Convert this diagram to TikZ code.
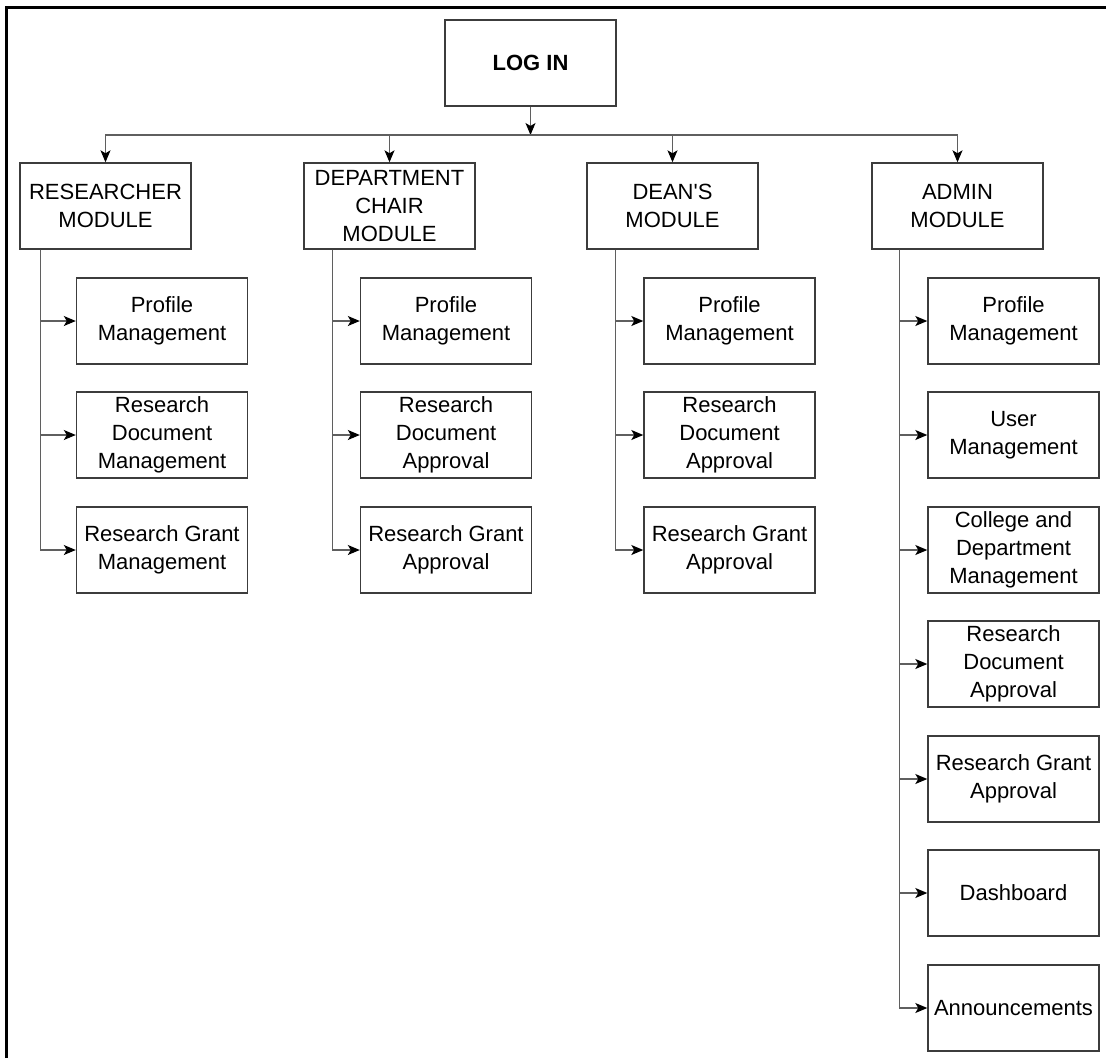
\documentclass[tikz,border=0pt]{standalone}
\usepackage{fontspec}
\setmainfont{Liberation Sans}
\usetikzlibrary{arrows.meta}
\definecolor{boxline}{RGB}{60,60,60}
\definecolor{conn}{RGB}{95,95,95}
\begin{document}
\begin{tikzpicture}[x=1pt,y=-1pt,
  box/.style={draw=boxline,line width=1.4pt,fill=white,minimum width=171pt,minimum height=86pt,
    inner sep=0pt,align=center,font=\fontsize{22}{28}\selectfont},
  arr/.style={draw=conn,line width=1.2pt,-{Stealth[length=12pt,width=10pt,inset=3pt,color=black,fill=black]}}]
\useasboundingbox (0,0) rectangle (1106,1058);
\draw[line width=3pt,black] (6,1058) -- (6,7) -- (1106,7);

\node[box,font=\fontsize{22}{28}\selectfont\bfseries] (login) at (530.5,63) {LOG IN};
\coordinate (bus) at (530.5,135);

\node[box] (res) at (105.5,206) {RESEARCHER\\MODULE};
\node[box] (dept) at (389.5,206) {DEPARTMENT\\CHAIR\\MODULE};
\node[box] (dean) at (672.5,206) {DEAN\textquotesingle S\\MODULE};
\node[box] (admin) at (957.5,206) {ADMIN\\MODULE};

\draw[arr] (login.south) -- (bus);
\foreach \m in {res,dept,dean,admin}{\draw[arr] (bus) -| (\m.north);}

% Researcher children
\node[box] (r1) at (162,321) {Profile\\Management};
\node[box] (r2) at (162,435) {Research\\Document\\Management};
\node[box] (r3) at (162,550) {Research Grant\\Management};
% Dept children
\node[box] (d1) at (446,321) {Profile\\Management};
\node[box] (d2) at (446,435) {Research\\Document\\Approval};
\node[box] (d3) at (446,550) {Research Grant\\Approval};
% Dean children
\node[box] (e1) at (729.5,321) {Profile\\Management};
\node[box] (e2) at (729.5,435) {Research\\Document\\Approval};
\node[box] (e3) at (729.5,550) {Research Grant\\Approval};
% Admin children
\node[box] (a1) at (1013.5,321) {Profile\\Management};
\node[box] (a2) at (1013.5,435) {User\\Management};
\node[box] (a3) at (1013.5,550) {College and\\Department\\Management};
\node[box] (a4) at (1013.5,664) {Research\\Document\\Approval};
\node[box] (a5) at (1013.5,779) {Research Grant\\Approval};
\node[box] (a6) at (1013.5,893) {Dashboard};
\node[box] (a7) at (1013.5,1008) {Announcements};

\foreach \c in {r1,r2,r3}{\draw[arr] ([xshift=21pt]res.south west) |- (\c.west);}
\foreach \c in {d1,d2,d3}{\draw[arr] ([xshift=29pt]dept.south west) |- (\c.west);}
\foreach \c in {e1,e2,e3}{\draw[arr] ([xshift=29pt]dean.south west) |- (\c.west);}
\foreach \c in {a1,a2,a3,a4,a5,a6,a7}{\draw[arr] ([xshift=28pt]admin.south west) |- (\c.west);}
\end{tikzpicture}
\end{document}
